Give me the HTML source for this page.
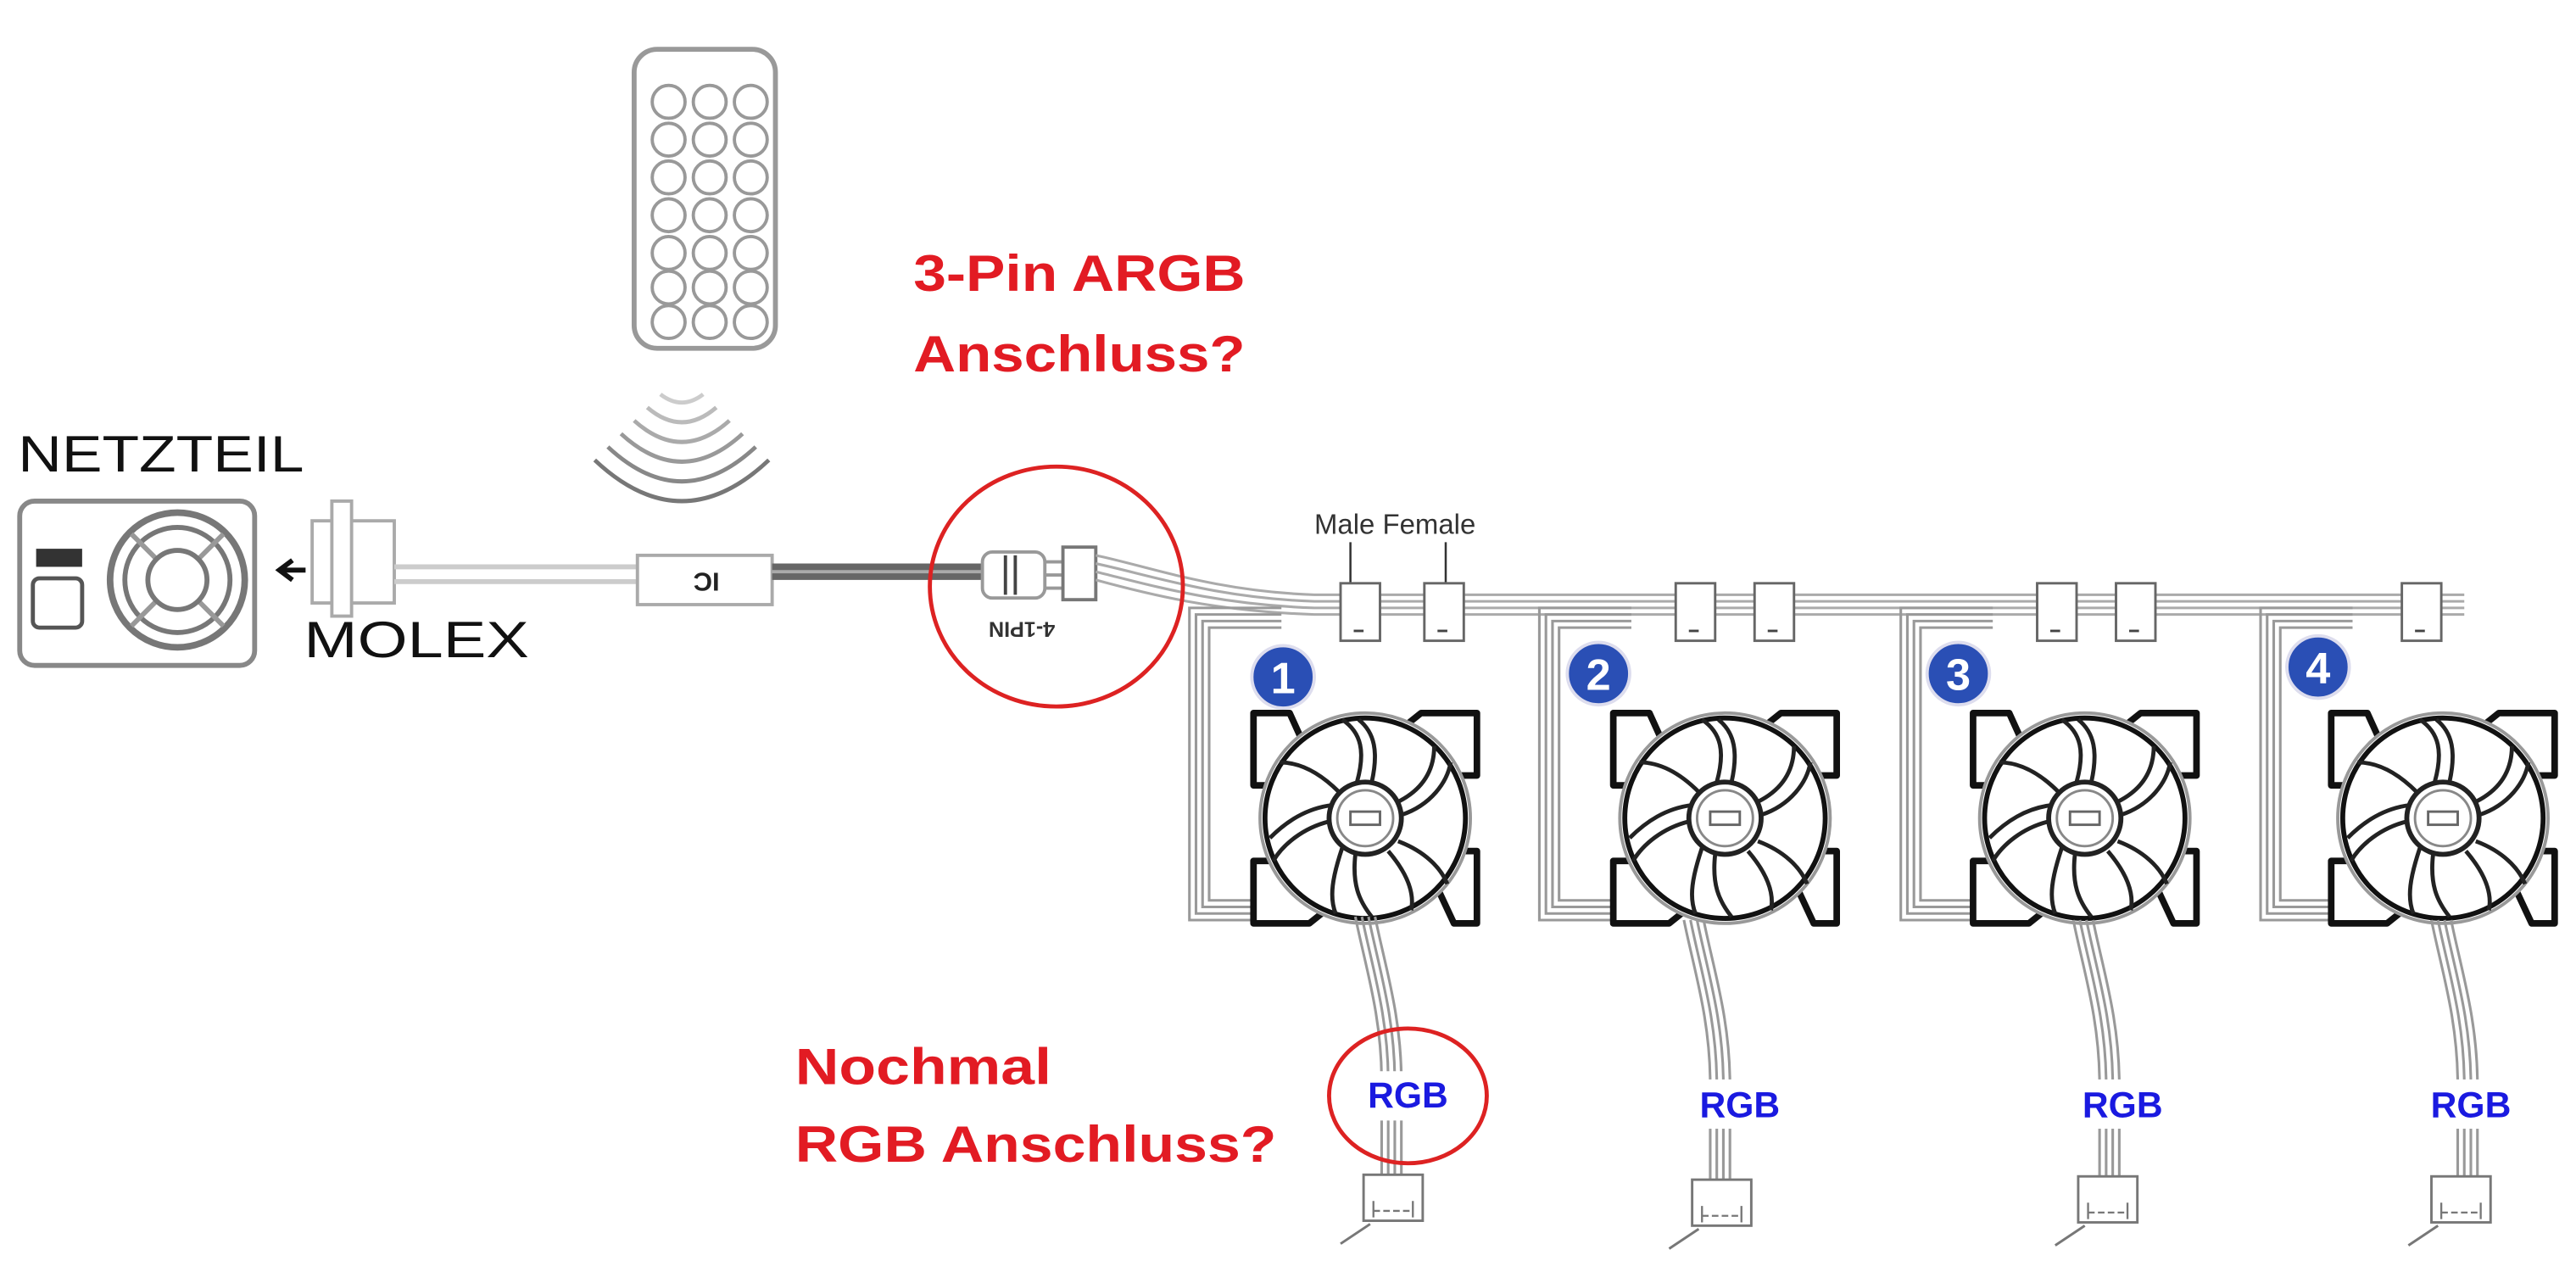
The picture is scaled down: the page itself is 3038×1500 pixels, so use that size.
<!DOCTYPE html>
<html><head><meta charset="utf-8"><style>
html,body{margin:0;padding:0;background:#fff}
svg{display:block}
</style></head><body>
<svg width="3038" height="1500" viewBox="0 0 1568 774.2" preserveAspectRatio="none" xmlns="http://www.w3.org/2000/svg">
<defs>
<g id="fan">
  <path d="M-68,-64 h22 l10,22 l-20,22 h-12 z M68,-64 h-34 l-10,8 l30,30 h14 z M-68,64 h34 l10,-8 l-30,-30 h-14 z M68,64 h-14 l-14,-30 l16,-14 h12 z" fill="#fff" stroke="#111" stroke-width="4" stroke-linejoin="round"/>
  <circle r="64" fill="#fff" stroke="#999" stroke-width="2"/>
  <circle r="61" fill="none" stroke="#111" stroke-width="3"/>
  <g fill="none" stroke="#222" stroke-width="2.5">
    <path d="M-5,-22 C0,-40 -2,-52 -14,-60"/><path d="M4,-22 C8,-40 6,-52 -4,-60"/>
    <path d="M20,-10 C36,-18 42,-30 42,-44"/><path d="M22,-2 C40,-8 50,-22 52,-34"/>
    <path d="M20,14 C36,20 46,30 50,40"/><path d="M14,20 C26,34 30,46 28,56"/>
    <path d="M-6,22 C-8,40 -4,50 4,60"/><path d="M-14,18 C-20,36 -22,48 -18,58"/>
    <path d="M-22,2 C-38,6 -50,16 -56,26"/><path d="M-20,-8 C-36,-6 -48,2 -58,12"/>
    <path d="M-16,-16 C-28,-28 -40,-34 -52,-34"/>
  </g>
  <circle r="22" fill="#fff" stroke="#222" stroke-width="3"/>
  <circle r="17" fill="none" stroke="#888" stroke-width="1.5"/>
  <rect x="-9" y="-4" width="18" height="8" fill="none" stroke="#666" stroke-width="1.5"/>
</g>
<g id="loop" fill="none" stroke="#999" stroke-width="1.6">
  <path d="M58,0 H2 V190 H48"/><path d="M58,4 H6 V186 H48"/><path d="M58,8 H10 V182 H48"/><path d="M58,12 H14 V178 H48"/>
</g>
<g id="tail" fill="none" stroke="#999" stroke-width="1.6">
  <path d="M0,0 C6,30 16,60 16,100 V180"/><path d="M4,0 C10,30 20,60 20,100 V180"/><path d="M8,0 C14,30 24,60 24,100 V180"/><path d="M12,0 C18,30 28,60 28,100 V180"/>
</g>
<g id="plug">
  <rect x="0" y="0" width="36" height="28" fill="#fff" stroke="#777" stroke-width="1.5"/>
  <path d="M6,22 h4 M12,22 h4 M18,22 h4 M24,22 h4 M6,16 v10 M30,16 v10" stroke="#777" stroke-width="1.2"/>
  <line x1="4" y1="30" x2="-14" y2="42" stroke="#777" stroke-width="1.5"/>
</g>
<g id="mconn">
  <rect x="0" y="0" width="24" height="35" fill="#fff" stroke="#666" stroke-width="1.5"/>
  <line x1="8" y1="29" x2="14" y2="29" stroke="#444" stroke-width="1.5"/>
</g>
</defs>

<!-- Remote -->
<rect x="386" y="30" width="86" height="182" rx="14" fill="#fff" stroke="#999" stroke-width="3"/>
<g fill="#fff" stroke="#999" stroke-width="2">
<circle cx="407" cy="62" r="10"/><circle cx="432" cy="62" r="10"/><circle cx="457" cy="62" r="10"/>
<circle cx="407" cy="85" r="10"/><circle cx="432" cy="85" r="10"/><circle cx="457" cy="85" r="10"/>
<circle cx="407" cy="108" r="10"/><circle cx="432" cy="108" r="10"/><circle cx="457" cy="108" r="10"/>
<circle cx="407" cy="131" r="10"/><circle cx="432" cy="131" r="10"/><circle cx="457" cy="131" r="10"/>
<circle cx="407" cy="154" r="10"/><circle cx="432" cy="154" r="10"/><circle cx="457" cy="154" r="10"/>
<circle cx="407" cy="175" r="10"/><circle cx="432" cy="175" r="10"/><circle cx="457" cy="175" r="10"/>
<circle cx="407" cy="196" r="10"/><circle cx="432" cy="196" r="10"/><circle cx="457" cy="196" r="10"/>
</g>
<!-- waves -->
<g fill="none" stroke-width="2.5">
<path d="M402,240 Q415,250 428,240" stroke="#ccc"/>
<path d="M394,248 Q415,266 436,248" stroke="#bbb"/>
<path d="M386,256 Q415,282 444,256" stroke="#aaa"/>
<path d="M378,264 Q415,298 452,264" stroke="#999"/>
<path d="M370,272 Q415,314 460,272" stroke="#888"/>
<path d="M362,280 Q415,330 468,280" stroke="#777"/>
</g>

<!-- Netzteil -->
<text x="11" y="287" textLength="174" lengthAdjust="spacingAndGlyphs" font-family="Liberation Sans, sans-serif" font-size="31" fill="#111">NETZTEIL</text>
<rect x="12" y="305" width="143" height="100" rx="9" fill="#fff" stroke="#888" stroke-width="3"/>
<rect x="22" y="334" width="28" height="11" fill="#333"/>
<rect x="20" y="352" width="30" height="30" rx="4" fill="#fff" stroke="#555" stroke-width="2.5"/>
<circle cx="108" cy="353" r="41" fill="#fff" stroke="#777" stroke-width="4"/>
<circle cx="108" cy="353" r="32" fill="none" stroke="#777" stroke-width="3"/>
<path d="M80,325 L136,381 M136,325 L80,381" stroke="#999" stroke-width="3"/>
<circle cx="108" cy="353" r="18" fill="#fff" stroke="#777" stroke-width="3"/>
<path d="M186,347 H172 M178,341 L170,347 L178,353" stroke="#111" stroke-width="3" fill="none"/>
<!-- Molex -->
<rect x="190" y="317" width="50" height="50" fill="#fff" stroke="#aaa" stroke-width="2"/>
<rect x="202" y="305" width="12" height="70" fill="#fff" stroke="#aaa" stroke-width="2"/>
<text x="185" y="400" textLength="137" lengthAdjust="spacingAndGlyphs" font-family="Liberation Sans, sans-serif" font-size="31" fill="#111">MOLEX</text>
<path d="M240,345 H390 M240,354 H390" stroke="#ccc" stroke-width="3"/>
<!-- IC -->
<rect x="388" y="338" width="82" height="30" fill="#fff" stroke="#aaa" stroke-width="2"/>
<text x="0" y="0" transform="translate(430,353) rotate(180)" text-anchor="middle" dominant-baseline="middle" font-family="Liberation Sans, sans-serif" font-size="16" font-weight="bold" fill="#222">IC</text>
<path d="M470,348 H598" stroke="#666" stroke-width="10"/>
<path d="M470,348 H598" stroke="#aaa" stroke-width="2"/>
<!-- 4-1PIN connector -->
<rect x="598" y="336" width="38" height="28" rx="6" fill="#fff" stroke="#999" stroke-width="2"/>
<path d="M612,338 v24 M618,338 v24" stroke="#444" stroke-width="2"/>
<path d="M636,342 h14 M636,350 h14 M636,358 h14" stroke="#999" stroke-width="2"/>
<rect x="647" y="333" width="20" height="32" fill="#fff" stroke="#777" stroke-width="2"/>
<text x="0" y="0" transform="translate(622,382) rotate(180)" text-anchor="middle" dominant-baseline="middle" font-family="Liberation Sans, sans-serif" font-size="13" font-weight="bold" fill="#333">4-1PIN</text>
<!-- main cable -->
<g fill="none" stroke="#aaa" stroke-width="1.6">
<path d="M667,338 C700,345 740,360 800,362 H1500"/>
<path d="M667,343 C700,350 740,364 800,366 H1500"/>
<path d="M667,348 C700,356 740,368 800,370 H1500"/>
<path d="M667,353 C700,362 740,372 800,374 H1500"/>
</g>
<use href="#loop" x="722" y="370"/>
<use href="#loop" x="935" y="370"/>
<use href="#loop" x="1155" y="370"/>
<use href="#loop" x="1374" y="370"/>

<!-- connectors -->
<text x="800" y="325" font-family="Liberation Sans, sans-serif" font-size="17" fill="#333">Male Female</text>
<path d="M822,330 V356 M880,330 V356" stroke="#333" stroke-width="1.3"/>
<use href="#mconn" x="816" y="355"/><use href="#mconn" x="867" y="355"/>
<use href="#mconn" x="1020" y="355"/><use href="#mconn" x="1068" y="355"/>
<use href="#mconn" x="1240" y="355"/><use href="#mconn" x="1288" y="355"/>
<use href="#mconn" x="1462" y="355"/>

<!-- fans -->
<use href="#fan" x="831" y="498"/>
<use href="#fan" x="1050" y="498"/>
<use href="#fan" x="1269" y="498"/>
<use href="#fan" x="1487" y="498"/>

<!-- badges -->
<g font-family="Liberation Sans, sans-serif" font-weight="bold" font-size="27" fill="#fff" text-anchor="middle">
<circle cx="781" cy="412" r="19" fill="#2a4fb5" stroke="#dde" stroke-width="2"/><text x="781" y="422">1</text>
<circle cx="973" cy="410" r="19" fill="#2a4fb5" stroke="#dde" stroke-width="2"/><text x="973" y="420">2</text>
<circle cx="1192" cy="410" r="19" fill="#2a4fb5" stroke="#dde" stroke-width="2"/><text x="1192" y="420">3</text>
<circle cx="1411" cy="406" r="19" fill="#2a4fb5" stroke="#dde" stroke-width="2"/><text x="1411" y="416">4</text>
</g>

<!-- tails -->
<use href="#tail" x="825" y="558"/>
<use href="#tail" x="1025" y="560"/>
<use href="#tail" x="1262" y="560"/>
<use href="#tail" x="1480" y="560"/>
<use href="#plug" x="830" y="715"/>
<use href="#plug" x="1030" y="718"/>
<use href="#plug" x="1265" y="716"/>
<use href="#plug" x="1480" y="716"/>
<g font-family="Liberation Sans, sans-serif" font-weight="bold" font-size="22" fill="#1a1ae0" text-anchor="middle">
<rect x="835" y="652" width="44" height="30" fill="#fff"/><text x="857" y="674">RGB</text>
<rect x="1037" y="657" width="44" height="30" fill="#fff"/><text x="1059" y="680">RGB</text>
<rect x="1270" y="657" width="44" height="30" fill="#fff"/><text x="1292" y="680">RGB</text>
<rect x="1482" y="657" width="44" height="30" fill="#fff"/><text x="1504" y="680">RGB</text>
</g>

<!-- red annotations -->
<ellipse cx="643" cy="357" rx="77" ry="73" fill="none" stroke="#d22" stroke-width="2.5"/>
<ellipse cx="857" cy="667" rx="48" ry="41" fill="none" stroke="#d22" stroke-width="2.5"/>
<g font-family="Liberation Sans, sans-serif" font-weight="bold" font-size="31" fill="#e21b23" lengthAdjust="spacingAndGlyphs">
<text x="556" y="177" textLength="202" lengthAdjust="spacingAndGlyphs">3-Pin ARGB</text>
<text x="556" y="226" textLength="202" lengthAdjust="spacingAndGlyphs">Anschluss?</text>
<text x="484" y="660" textLength="156" lengthAdjust="spacingAndGlyphs">Nochmal</text>
<text x="484" y="707" textLength="293" lengthAdjust="spacingAndGlyphs">RGB Anschluss?</text>
</g>
</svg>
</body></html>
